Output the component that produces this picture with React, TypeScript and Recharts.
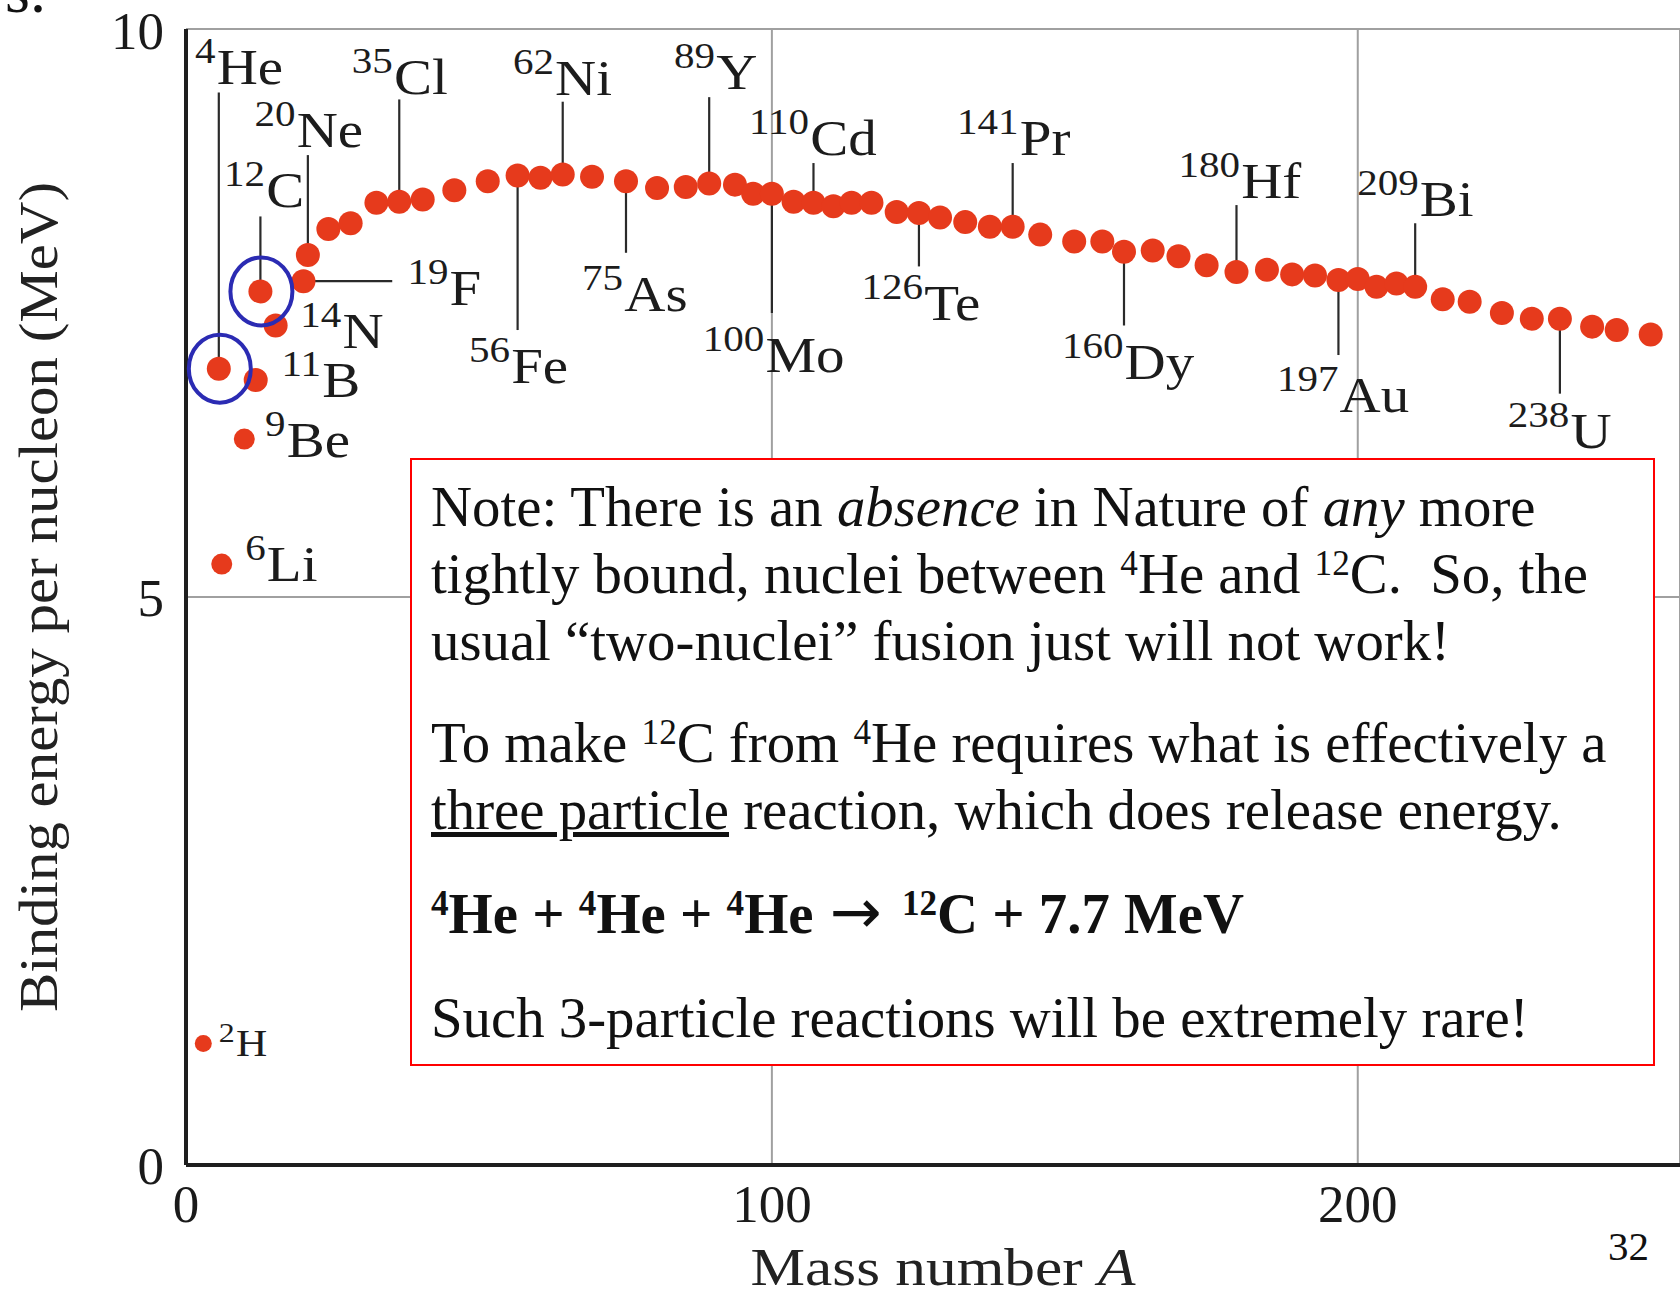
import React from 'react';
import { ScatterChart, Scatter, XAxis, YAxis, CartesianGrid, ReferenceLine } from 'recharts';

// ---- data ----
const massNumbers = [2.95, 5.6, 6.1, 9.95, 11.9, 12.7, 15.3, 20.05, 20.8, 24.3, 28.1, 32.5, 36.4, 40.4, 45.8, 51.5, 56.6, 60.5, 64.3, 69.3, 75.1, 80.4, 85.3, 89.3, 93.7, 96.8, 100.0, 103.7, 107.1, 110.5, 113.6, 117.0, 121.3, 125.1, 128.7, 133.0, 137.2, 141.1, 145.8, 151.6, 156.4, 160.1, 165.0, 169.4, 174.2, 179.3, 184.5, 188.8, 192.7, 196.7, 200.0, 203.2, 206.6, 209.8, 214.5, 219.1, 224.6, 229.7, 234.5, 240.0, 244.2, 250.0];
const bindingEnergies = [1.07, 7.01, 5.29, 6.39, 6.91, 7.69, 7.39, 7.78, 8.01, 8.24, 8.29, 8.47, 8.48, 8.50, 8.58, 8.66, 8.71, 8.69, 8.72, 8.70, 8.66, 8.60, 8.61, 8.64, 8.63, 8.55, 8.55, 8.48, 8.47, 8.44, 8.47, 8.47, 8.39, 8.38, 8.34, 8.30, 8.26, 8.26, 8.19, 8.13, 8.13, 8.04, 8.05, 8.00, 7.92, 7.86, 7.88, 7.84, 7.83, 7.79, 7.80, 7.73, 7.76, 7.73, 7.62, 7.60, 7.50, 7.45, 7.45, 7.38, 7.35, 7.31];

const xTicks = [0, 100, 200];
const yTicks = [0, 5, 10];

// nuclide annotations
const labelSup = ['2', '4', '6', '9', '11', '12', '14', '19', '20', '35', '56', '62', '75', '89', '100', '110', '126', '141', '160', '180', '197', '209', '238'];
const labelSym = ['H', 'He', 'Li', 'Be', 'B', 'C', 'N', 'F', 'Ne', 'Cl', 'Fe', 'Ni', 'As', 'Y', 'Mo', 'Cd', 'Te', 'Pr', 'Dy', 'Hf', 'Au', 'Bi', 'U'];
const labelDot = [0, 1, 2, 3, 4, 5, 6, 7, 8, 12, 16, 18, 20, 23, 26, 28, 33, 37, 41, 45, 49, 53, 58];
const labelA = [5.6, 1.54, 10.1, 13.5, 16.3, 6.49, 19.5, 37.8, 11.7, 28.3, 48.3, 55.8, 67.6, 83.3, 88.2, 96.1, 115.3, 131.6, 149.5, 169.4, 186.2, 199.9, 225.6];
const labelE = [0.96, 9.52, 5.14, 6.23, 6.76, 8.43, 7.19, 7.57, 8.96, 9.43, 6.88, 9.42, 7.52, 9.47, 6.98, 8.89, 7.44, 8.89, 6.92, 8.51, 6.63, 8.35, 6.31];
// far end of each leader line (energy for vertical leaders, mass number for the horizontal 19F leader)
const leaderEnd: (number | null)[] = [null, 9.44, null, null, null, 8.35, null, 35.2, 8.89, 9.38, 7.35, 9.36, 8.03, 9.40, 7.50, 8.82, 7.91, 8.82, 7.39, 8.45, 7.13, 8.29, 6.79];
const horizontalLeader = ['F'];
const circledSym = ['He', 'C'];

const points = massNumbers.map((A, i) => ({ A, E: bindingEnergies[i], i }));
const labelPoints = labelSup.map((sup, k) => ({ A: labelA[k], E: labelE[k], sup, sym: labelSym[k] }));
const circledPoints = labelSym
  .map((s, k) => ({ s, k }))
  .filter((o) => circledSym.includes(o.s))
  .map((o) => points[labelDot[o.k]]);

const SERIF = "'Liberation Serif', 'Times New Roman', Times, serif";
const RED = '#e63a1c';

const DotShape = (props: any) => {
  const { cx, cy, payload } = props;
  if (cx == null || cy == null) return null;
  const i = payload.i;
  const r = i === 0 ? 8.5 : i === 2 || i === 3 ? 10.5 : 12;
  return <circle cx={cx} cy={cy} r={r} fill={RED} />;
};

const RingShape = (props: any) => {
  const { cx, cy } = props;
  if (cx == null || cy == null) return null;
  return <ellipse cx={cx + 1} cy={cy} rx={31} ry={34} fill="none" stroke="#2b2bb3" strokeWidth={4} />;
};

const LabelShape = (props: any) => {
  const { cx, cy, payload } = props;
  if (cx == null || cy == null) return null;
  const small = payload.sym === 'H';
  const main = small ? 38 : 50;
  const sup = small ? 28 : 36;
  const rise = small ? 14 : 21;
  return (
    <text transform={`translate(${cx},${cy}) scale(1.14,1)`} fontFamily={SERIF} fill="#1c1c1c">
      <tspan fontSize={sup} dy={-rise}>{payload.sup}</tspan>
      <tspan fontSize={main} dy={rise} dx={1}>{payload.sym}</tspan>
    </text>
  );
};

const YTitle = (props: any) => {
  const vb = props.viewBox || { x: 0, y: 29, width: 186, height: 1136 };
  const y = vb.y + vb.height / 2;
  return (
    <text transform={`translate(57,${y}) rotate(-90)`} textAnchor="middle" fontFamily={SERIF} fontSize={55} fill="#222" textLength={830} lengthAdjust="spacingAndGlyphs">
      Binding energy per nucleon (MeV)
    </text>
  );
};

const XTitle = (props: any) => {
  const vb = props.viewBox || { x: 186, y: 1165, width: 1494, height: 124 };
  const x = vb.x + vb.width / 2 + 10;
  return (
    <text x={x} y={vb.y + 120} textAnchor="middle" fontFamily={SERIF} fontSize={53} fill="#222" textLength={385} lengthAdjust="spacingAndGlyphs">
      Mass number <tspan fontStyle="italic">A</tspan>
    </text>
  );
};

const supStyle: React.CSSProperties = { fontSize: '0.62em', position: 'relative', top: '-0.5em', verticalAlign: 'baseline', lineHeight: 0 };
const arrowStyle: React.CSSProperties = { fontFamily: "'DejaVu Sans', sans-serif", fontWeight: 'normal', fontSize: 62, lineHeight: 0, margin: '0 6px 0 2px' };

export default function App() {
  const segments = labelSym
    .map((sym, k) => {
      const end = leaderEnd[k];
      if (end == null) return null;
      const d = points[labelDot[k]];
      if (horizontalLeader.includes(sym)) {
        return { k, seg: [{ x: d.A + 1.8, y: d.E }, { x: end, y: d.E }] };
      }
      const dir = end > d.E ? 1 : -1;
      return { k, seg: [{ x: d.A, y: d.E + dir * 0.09 }, { x: d.A, y: end }] };
    })
    .filter(Boolean) as { k: number; seg: { x: number; y: number }[] }[];

  return (
    <div style={{ position: 'relative', width: 1680, height: 1289, overflow: 'hidden', background: '#fff' }}>
      <style>{'body{margin:0;background:#fff}'}</style>
      <div style={{ position: 'absolute', left: 0, top: 0 }}>
        <ScatterChart width={1680} height={1289} margin={{ top: 29, right: 0, bottom: 0, left: 0 }}>
          <CartesianGrid stroke="#a0a0a0" strokeWidth={2} />
          <XAxis
            type="number"
            dataKey="A"
            domain={[0, 255]}
            ticks={xTicks}
            allowDataOverflow
            height={124}
            axisLine={{ stroke: '#1e1e1e', strokeWidth: 4 }}
            tickLine={false}
            tickMargin={13}
            tick={{ fill: '#1a1a1a', fontSize: 53, fontFamily: SERIF }}
            label={<XTitle />}
          />
          <YAxis
            type="number"
            dataKey="E"
            domain={[0, 10]}
            ticks={yTicks}
            allowDataOverflow
            width={186}
            axisLine={{ stroke: '#1e1e1e', strokeWidth: 4 }}
            tickLine={false}
            tickMargin={16}
            tick={{ fill: '#1a1a1a', fontSize: 53, fontFamily: SERIF }}
            label={<YTitle />}
          />
          {segments.map((s) => (
            <ReferenceLine key={s.k} segment={s.seg} stroke="#2a2a2a" strokeWidth={2.2} ifOverflow="visible" />
          ))}
          <Scatter data={points} shape={<DotShape />} isAnimationActive={false} />
          <Scatter data={circledPoints} shape={<RingShape />} isAnimationActive={false} />
          <Scatter data={labelPoints} shape={<LabelShape />} isAnimationActive={false} />
        </ScatterChart>
      </div>

      <div
        style={{
          position: 'absolute',
          left: 410,
          top: 458,
          width: 1245,
          height: 608,
          boxSizing: 'border-box',
          border: '2px solid #ff0000',
          background: '#fff',
          padding: '13px 0 0 19px',
          fontFamily: SERIF,
          fontSize: 56.8,
          lineHeight: '67px',
          color: '#111',
          whiteSpace: 'nowrap',
        }}
      >
        <div>Note: There is an <i>absence</i> in Nature of <i>any</i> more</div>
        <div>tightly bound, nuclei between <span style={supStyle}>4</span>He and <span style={supStyle}>12</span>C.&nbsp; So, the</div>
        <div>usual “two-nuclei” fusion just will not work!</div>
        <div style={{ marginTop: 35 }}>To make <span style={supStyle}>12</span>C from <span style={supStyle}>4</span>He requires what is effectively a</div>
        <div><u>three particle</u> reaction, which does release energy.</div>
        <div style={{ marginTop: 37, fontWeight: 'bold' }}>
          <span style={supStyle}>4</span>He + <span style={supStyle}>4</span>He + <span style={supStyle}>4</span>He <span style={arrowStyle}>→</span> <span style={supStyle}>12</span>C + 7.7 MeV
        </div>
        <div style={{ marginTop: 37 }}>Such 3-particle reactions will be extremely rare!</div>
      </div>

      <div style={{ position: 'absolute', left: 1608, top: 1226, fontFamily: SERIF, fontSize: 41, lineHeight: '41px', color: '#111' }}>32</div>
      <div style={{ position: 'absolute', left: -27, top: -41, fontFamily: SERIF, fontSize: 64, lineHeight: '64px', color: '#111', whiteSpace: 'nowrap' }}>ys.</div>
    </div>
  );
}
